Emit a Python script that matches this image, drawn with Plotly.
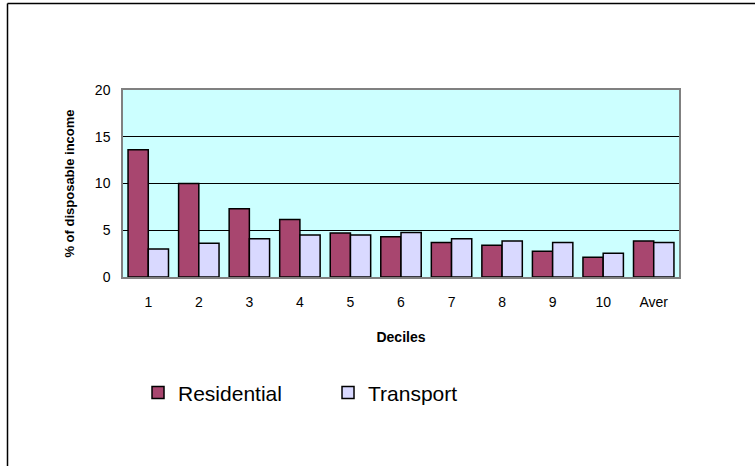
import plotly.graph_objects as go

categories = ["1", "2", "3", "4", "5", "6", "7", "8", "9", "10", "Aver"]
residential = [13.6, 10.0, 7.3, 6.15, 4.7, 4.3, 3.7, 3.4, 2.75, 2.1, 3.85]
transport = [3.0, 3.6, 4.1, 4.5, 4.5, 4.75, 4.1, 3.85, 3.7, 2.55, 3.7]
y_ticks = [0, 5, 10, 15, 20]

FONT = "Liberation Sans, Arial, sans-serif"

fig = go.Figure()
fig.add_trace(go.Bar(x=categories, y=residential, name="Residential",
                     marker=dict(color="#A8466F", line=dict(color="black", width=1.5))))
fig.add_trace(go.Bar(x=categories, y=transport, name="Transport",
                     marker=dict(color="#D9D9FF", line=dict(color="black", width=1.5))))

bx0 = (7.5 - 123) / 556
bx1 = (1000 - 123) / 556
by0 = (277 - 600) / 187
by1 = (277 - 3.5) / 187

fig.update_layout(
    width=755, height=466,
    margin=dict(l=123, r=76, t=90, b=189),
    paper_bgcolor="white",
    plot_bgcolor="#CCFFFF",
    barmode="group", bargap=0.2, bargroupgap=0.0,
    font=dict(family=FONT, color="black", size=14),
    showlegend=True,
    legend=dict(orientation="h", x=0.027, y=-0.62, xanchor="left", yanchor="middle",
                font=dict(size=21, family=FONT), entrywidth=145, entrywidthmode="pixels",
                bgcolor="rgba(0,0,0,0)", itemclick=False),
    shapes=[
        dict(type="line", xref="paper", yref="paper", x0=bx0, x1=bx0, y0=by0, y1=by1,
             line=dict(color="black", width=1.5), layer="below"),
        dict(type="line", xref="paper", yref="paper", x0=bx0, x1=bx1, y0=by1, y1=by1,
             line=dict(color="black", width=1.5), layer="below"),
    ],
)

fig.update_xaxes(
    type="category",
    showline=True, linecolor="#808080", linewidth=1.5, mirror=True,
    ticks="", ticklabelstandoff=11,
    tickfont=dict(size=14),
    title=dict(text="<b>Deciles</b>", font=dict(size=14), standoff=24),
)
fig.update_yaxes(
    range=[0, 20], tickvals=y_ticks, ticktext=[str(v) for v in y_ticks],
    showgrid=True, gridcolor="black", gridwidth=1,
    zeroline=False,
    showline=True, linecolor="#808080", linewidth=1.5, mirror=True,
    ticks="", ticklabelstandoff=8,
    tickfont=dict(size=14),
    title=dict(text="<b>% of disposable income</b>", font=dict(size=13), standoff=17),
)

fig.write_html("out.html", config={"displayModeBar": False},
               post_script="document.body.style.margin='0px';document.body.style.overflow='hidden';")
